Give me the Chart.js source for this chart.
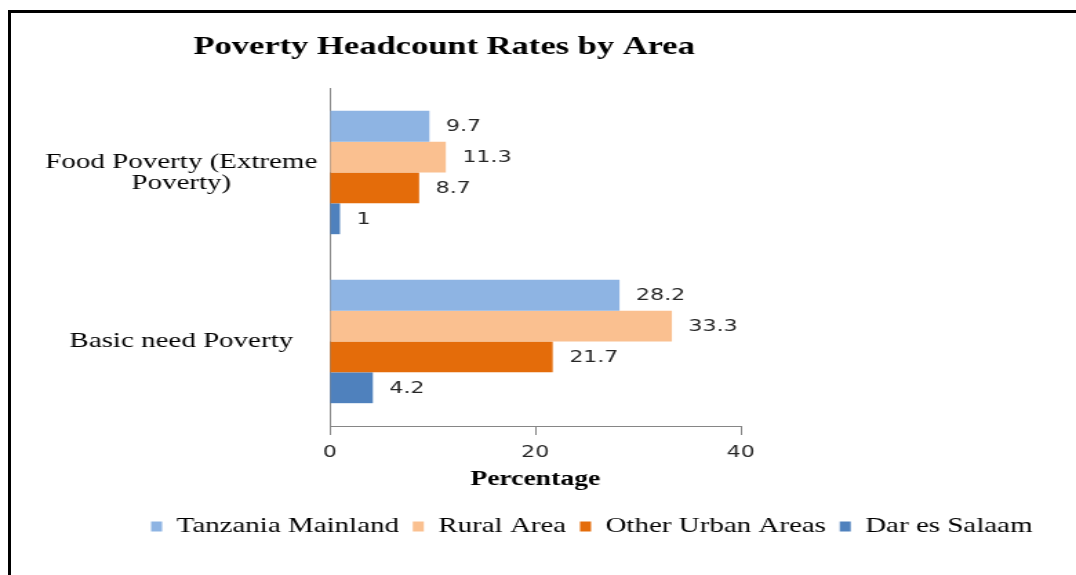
<!DOCTYPE html>
<html>
<head>
<meta charset="utf-8">
<script src="https://cdn.jsdelivr.net/npm/chart.js@4/dist/chart.umd.min.js"></script>
<style>
  html, body { margin: 0; padding: 0; background: #fff; }
  #wrap { position: relative; width: 1076px; height: 575px; overflow: hidden; }
  #frame { position: absolute; left: 8px; top: 10px; right: 0; bottom: 0;
           border-top: 3px solid #000; border-left: 3px solid #000; pointer-events: none; }
  /* the original picture is stretched sideways, so the canvas is drawn narrow and widened */
  #chart { position: absolute; left: 0; top: 0; width: 1076px; height: 575px; }
</style>
</head>
<body>
<div id="wrap">
  <canvas id="chart" width="780" height="575" style="width:1076px;height:575px"></canvas>
  <div id="frame"></div>
</div>
<script>
const categories = [['Food Poverty (Extreme', 'Poverty)'], 'Basic need Poverty'];
const areas = ['Tanzania Mainland', 'Rural Area', 'Other Urban Areas', 'Dar es Salaam'];
const tanzaniaMainland = [9.7, 28.2];
const ruralArea = [11.3, 33.3];
const otherUrbanAreas = [8.7, 21.7];
const darEsSalaam = [1, 4.2];
const xTicks = [0, 20, 40];

const colors = ['#8EB4E3', '#FAC090', '#E46C0A', '#4F81BD'];
const serif = '"Liberation Serif", "Times New Roman", serif';
const sans = '"DejaVu Sans", Verdana, sans-serif';

// value next to each bar
const valueLabels = {
  id: 'valueLabels',
  afterDatasetsDraw(chart) {
    const ctx = chart.ctx;
    ctx.save();
    ctx.font = '16px ' + sans;
    ctx.fillStyle = '#262626';
    ctx.textBaseline = 'middle';
    chart.data.datasets.forEach((ds, i) => {
      chart.getDatasetMeta(i).data.forEach((bar, j) => {
        ctx.fillText(String(ds.data[j]), bar.x + 12, bar.y + 1);
      });
    });
    ctx.restore();
  }
};

// title and legend are not centred on the canvas in the original
const shiftBlocks = {
  id: 'shiftBlocks',
  afterLayout(chart) {
    const move = (box, cx) => {
      if (!box) return;
      const d = cx - (box.left + box.right) / 2;
      box.left += d;
      box.right += d;
    };
    move(chart.titleBlock, 322);
    move(chart.legend, 429);
  }
};

const data = {
  labels: categories,
  datasets: [tanzaniaMainland, ruralArea, otherUrbanAreas, darEsSalaam].map((vals, i) => ({
    label: areas[i],
    data: vals,
    backgroundColor: colors[i],
    borderWidth: 0,
    categoryPercentage: 0.73,
    barPercentage: 1
  }))
};

new Chart(document.getElementById('chart'), {
  type: 'bar',
  data: data,
  plugins: [valueLabels, shiftBlocks],
  options: {
    indexAxis: 'y',
    responsive: false,
    animation: false,
    devicePixelRatio: 1,
    layout: { padding: { left: 0, right: 0, top: 0, bottom: 28 } },
    scales: {
      x: {
        min: 0,
        max: 40,
        afterBuildTicks(scale) { scale.ticks = xTicks.map(v => ({ value: v })); },
        afterFit(scale) { scale.height = 80; },
        border: { display: true, color: '#868686', width: 1 },
        grid: { drawOnChartArea: false, drawTicks: true, tickLength: 9, color: '#868686' },
        ticks: { font: { family: sans, size: 16 }, color: '#262626', padding: 8 },
        title: {
          display: true,
          text: 'Percentage',
          font: { family: serif, size: 20, weight: 'bold' },
          color: '#000',
          padding: { top: 0, bottom: 14 }
        }
      },
      y: {
        afterFit(scale) { scale.width = 239; },
        border: { display: true, color: '#868686', width: 1 },
        grid: { display: false, drawTicks: false },
        ticks: {
          font: { family: serif, size: 21, lineHeight: 1.0 },
          color: '#000',
          crossAlign: 'center',
          padding: 9
        }
      },
      y2: {
        type: 'category',
        position: 'right',
        afterFit(scale) { scale.width = 243; },
        border: { display: false },
        grid: { display: false, drawTicks: false },
        ticks: { display: false }
      }
    },
    plugins: {
      title: {
        display: true,
        text: 'Poverty Headcount Rates by Area',
        font: { family: serif, size: 25, weight: 'bold' },
        color: '#000',
        padding: { top: 33, bottom: 25 }
      },
      legend: {
        position: 'bottom',
        labels: {
          font: { family: serif, size: 21 },
          color: '#000',
          boxWidth: 8,
          boxHeight: 10,
          padding: 10
        }
      },
      tooltip: { enabled: false }
    }
  }
});
</script>
</body>
</html>
